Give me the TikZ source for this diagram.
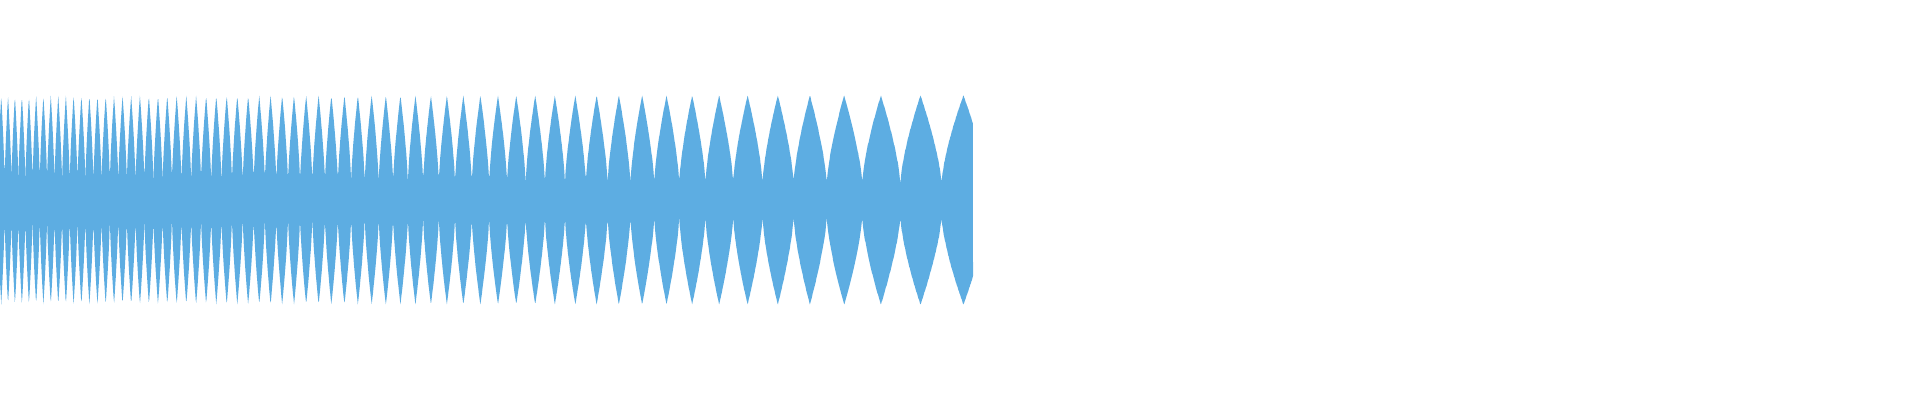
\documentclass[tikz,border=0pt]{standalone}
\definecolor{wave}{HTML}{5DADE2}
\begin{document}
\begin{tikzpicture}
\useasboundingbox (0,0) rectangle (19.2,4);
\tikzset{envfill/.style={fill=wave}}
\fill[envfill] plot[domain=0:9.73,samples=1800] (\x,{2.0+0.16+0.885*pow(max(asin(min(abs(sin(180*(75.5*(1-exp(-\x/5.08))-0.17)+90)),1))/90,0.0001),0.7)})
  -- plot[domain=9.73:0,samples=1800] (\x,{2.0-0.16-0.885*pow(max(asin(min(abs(sin(180*(75.5*(1-exp(-\x/5.08))-0.17)+90)),1))/90,0.0001),0.7)}) -- cycle;
\end{tikzpicture}
\end{document}
